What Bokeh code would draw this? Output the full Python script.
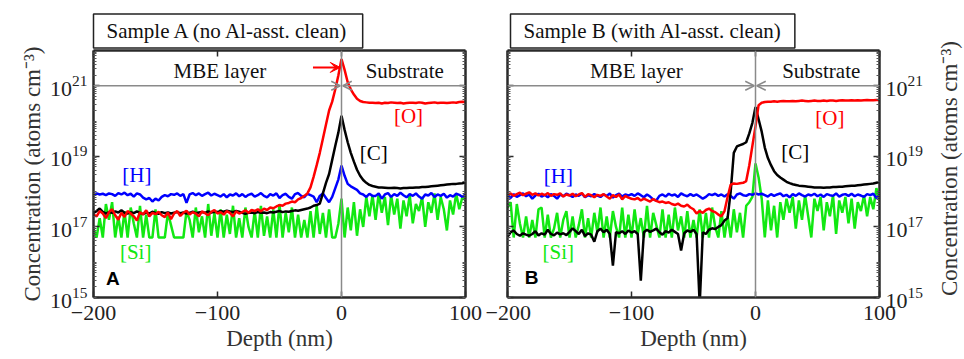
import math
import numpy as np
from bokeh.plotting import figure
from bokeh.layouts import row
from bokeh.models import (FixedTicker, LinearAxis, LogAxis, Span, Arrow, OpenHead,
                          VeeHead, Label, CustomJSTickFormatter, Range1d)
from bokeh.embed import file_html
from bokeh.resources import INLINE

# depth grid (nm), 2.5 nm sampling
depth = np.arange(-200, 100.1, 2.5)

# ---- Sample A (no Al-asst. clean), log10 concentrations ----
a_H = [17.93, 17.95, 17.92, 17.94, 17.90, 17.95, 17.93, 17.88, 17.96, 17.92, 17.97,
       17.90, 17.94, 17.86, 17.95, 17.92, 17.83, 17.78, 17.82, 17.72, 17.80,
       17.75, 17.85, 17.90, 17.87, 17.93, 17.91, 17.95, 17.88, 17.93, 17.68,
       17.92, 17.96, 17.90, 17.95, 17.88, 17.93, 17.97, 17.89, 17.94, 17.90,
       17.86, 17.93, 17.84, 17.92, 17.89, 17.95, 17.87, 17.93, 17.85, 17.91,
       17.94, 17.86, 17.90, 17.96, 17.88, 17.84, 17.93, 17.89, 17.95, 17.82,
       17.90, 17.94, 17.85, 17.80, 17.93, 17.96, 17.88, 17.84, 17.94, 17.90,
       17.86, 17.70, 17.88, 17.95, 17.82, 17.70, 17.85, 18.10, 18.35, 18.74,
       18.45, 18.22, 18.15, 18.10, 18.05, 17.95, 17.92, 17.85, 17.94, 17.88,
       17.88, 17.95, 17.80, 17.92, 17.96, 17.85, 17.93, 17.88, 17.97, 17.90,
       17.84, 17.93, 17.88, 17.95, 17.86, 17.80, 17.92, 17.89, 17.96, 17.85,
       17.92, 17.88, 17.94, 17.83, 17.90, 17.86, 17.94, 17.91, 17.85, 17.93]
a_C = [17.40, 17.45, 17.52, 17.43, 17.38, 17.42, 17.40, 17.44, 17.41, 17.47, 17.40,
       17.38, 17.42, 17.39, 17.44, 17.40, 17.36, 17.41, 17.38, 17.43, 17.40,
       17.37, 17.42, 17.39, 17.41, 17.38, 17.40, 17.42, 17.39, 17.41, 17.38,
       17.40, 17.43, 17.39, 17.41, 17.42, 17.40, 17.44, 17.41, 17.43, 17.42,
       17.45, 17.43, 17.46, 17.44, 17.42, 17.45, 17.43, 17.40, 17.37, 17.40,
       17.41, 17.39, 17.42, 17.40, 17.41, 17.39, 17.42, 17.41, 17.43, 17.45,
       17.42, 17.44, 17.43, 17.45, 17.47, 17.46, 17.48, 17.50, 17.52, 17.55,
       17.60, 17.62, 17.66, 17.95, 18.25, 18.50, 18.90, 19.30, 19.68, 20.15,
       19.75, 19.40, 19.10, 18.85, 18.62, 18.45, 18.33, 18.25, 18.19, 18.16,
       18.14, 18.12, 18.12, 18.11, 18.10, 18.10, 18.11, 18.10, 18.09, 18.10,
       18.10, 18.11, 18.11, 18.12, 18.12, 18.13, 18.13, 18.14, 18.15, 18.16,
       18.17, 18.18, 18.19, 18.20, 18.21, 18.22, 18.22, 18.23, 18.24, 18.26]
a_O = [17.35, 17.30, 17.45, 17.38, 17.25, 17.42, 17.50, 17.33, 17.20, 17.40, 17.28,
       17.45, 17.38, 17.30, 17.18, 17.42, 17.35, 17.47, 17.30, 17.40, 17.36,
       17.43, 17.33, 17.28, 17.41, 17.22, 17.38, 17.45, 17.31, 17.40, 17.46,
       17.35, 17.42, 17.38, 17.30, 17.44, 17.39, 17.33, 17.43, 17.48, 17.38,
       17.42, 17.35, 17.45, 17.40, 17.30, 17.44, 17.38, 17.42, 17.47, 17.40,
       17.48, 17.45, 17.50, 17.44, 17.52, 17.48, 17.55, 17.53, 17.58, 17.62,
       17.60, 17.66, 17.68, 17.72, 17.70, 17.78, 17.82, 17.88, 17.95, 18.12,
       18.42, 18.75, 19.10, 19.50, 19.90, 20.30, 20.55, 20.90, 21.30, 21.76,
       21.45, 21.10, 20.90, 20.75, 20.63, 20.57, 20.54, 20.53, 20.52, 20.52,
       20.51, 20.52, 20.50, 20.52, 20.51, 20.53, 20.52, 20.51, 20.52, 20.50,
       20.51, 20.52, 20.52, 20.51, 20.53, 20.52, 20.50, 20.51, 20.52, 20.53,
       20.51, 20.52, 20.52, 20.51, 20.52, 20.53, 20.52, 20.54, 20.55, 20.54]
a_Si = [16.95, 16.70, 17.25, 16.70, 17.65, 17.20, 17.70, 16.70, 17.30, 16.70, 17.45,
        16.70, 17.55, 17.10, 16.70, 17.60, 16.70, 17.35, 16.70, 16.70, 17.50,
        16.70, 16.70, 16.70, 17.40, 17.05, 16.70, 16.70, 16.70, 16.70, 17.45,
        17.20, 16.70, 17.55, 16.85, 17.30, 16.70, 17.65, 16.75, 17.40, 16.70,
        17.50, 16.70, 17.35, 16.80, 17.60, 16.70, 17.25, 16.70, 17.55, 17.00,
        16.70, 17.45, 16.70, 17.60, 16.75, 17.30, 16.70, 17.50, 16.70, 17.65,
        16.70, 17.40, 16.85, 17.55, 16.70, 17.35, 16.70, 17.20, 16.70, 17.45,
        16.70, 17.60, 16.80, 17.40, 16.70, 17.50, 16.70, 16.70, 17.10, 17.80,
        16.70, 17.55, 16.90, 17.70, 16.75, 17.50, 17.00, 17.85, 17.30, 17.90,
        17.20, 17.95, 17.40, 17.85, 17.05, 17.90, 17.35, 17.80, 16.95, 17.75,
        17.30, 17.90, 17.10, 17.65, 17.45, 17.85, 17.00, 17.70, 17.40, 17.95,
        17.20, 17.85, 17.50, 16.90, 17.75, 17.35, 17.95, 17.50, 17.85, 17.75]

# ---- Sample B (with Al-asst. clean), log10 concentrations ----
b_H = [17.88, 17.82, 17.93, 17.85, 17.90, 17.95, 17.87, 17.92, 17.80, 17.89, 17.94,
       17.86, 17.91, 17.84, 17.93, 17.88, 17.80, 17.92, 17.87, 17.94, 17.90,
       17.85, 17.92, 17.88, 17.95, 17.84, 17.90, 17.87, 17.93, 17.89, 17.85,
       17.92, 17.88, 17.95, 17.83, 17.90, 17.94, 17.86, 17.92, 17.89, 17.93,
       17.88, 17.95, 17.90, 17.84, 17.92, 17.86, 17.78, 17.75, 17.88, 17.92,
       17.86, 17.94, 17.89, 17.92, 17.85, 17.95, 17.90, 17.87, 17.93, 17.88,
       17.92, 17.86, 17.80, 17.85, 17.93, 17.90, 17.94, 17.88, 17.92, 17.86,
       17.93, 17.88, 17.80, 17.92, 17.95, 17.90, 17.88, 17.93, 17.91, 17.95,
       17.92, 17.94, 17.90, 17.86, 17.93, 17.88, 17.92, 17.95, 17.87, 17.91,
       17.84, 17.93, 17.88, 17.95, 17.90, 17.86, 17.92, 17.89, 17.94, 17.87,
       17.92, 17.85, 17.93, 17.90, 17.88, 17.95, 17.86, 17.91, 17.93, 17.88,
       17.94, 17.87, 17.92, 17.89, 17.85, 17.93, 17.90, 17.94, 17.82, 17.88]
b_C = [16.72, 16.85, 16.90, 16.80, 16.75, 16.82, 16.78, 16.75, 16.80, 16.88, 16.76,
       16.82, 16.78, 16.92, 16.80, 16.76, 16.84, 16.79, 16.82, 16.77, 16.86,
       16.96, 16.88, 16.80, 16.92, 16.74, 16.82, 16.78, 16.58, 16.88, 16.95,
       16.85, 16.92, 16.80, 15.90, 16.85, 16.82, 16.88, 16.80, 16.90, 16.84,
       16.88, 16.80, 15.48, 16.85, 16.92, 16.86, 16.90, 16.95, 16.85, 16.78,
       16.88, 16.84, 16.92, 16.86, 16.80, 16.33, 16.82, 16.90, 16.86, 16.92,
       16.80, 14.80, 16.85, 16.80, 16.92, 16.96, 16.94, 17.00, 17.05, 17.18,
       17.25, 18.00, 19.10, 19.28, 19.32, 19.35, 19.40, 19.65, 19.95, 20.40,
       20.05, 19.70, 19.25, 18.95, 18.75, 18.58, 18.47, 18.40, 18.34, 18.28,
       18.24, 18.21, 18.19, 18.17, 18.16, 18.15, 18.14, 18.13, 18.12, 18.12,
       18.12, 18.11, 18.12, 18.12, 18.13, 18.13, 18.14, 18.14, 18.15, 18.16,
       18.17, 18.17, 18.18, 18.19, 18.20, 18.21, 18.22, 18.23, 18.25, 18.27]
b_O = [17.92, 17.95, 17.88, 17.93, 17.97, 17.90, 17.94, 17.98, 17.91, 17.95, 17.89,
       17.94, 17.90, 17.96, 17.88, 17.93, 17.91, 17.95, 17.86, 17.92, 17.89,
       17.94, 17.87, 17.92, 17.96, 17.85, 17.93, 17.90, 17.84, 17.91, 17.88,
       17.93, 17.86, 17.80, 17.90, 17.85, 17.92, 17.78, 17.88, 17.83, 17.80,
       17.78, 17.82, 17.75, 17.80, 17.76, 17.72, 17.79, 17.74, 17.70, 17.72,
       17.68, 17.70, 17.65, 17.62, 17.66, 17.60, 17.58, 17.63, 17.55, 17.50,
       17.38, 17.45, 17.40, 17.48, 17.52, 17.45, 17.42, 17.35, 17.30, 17.45,
       17.85, 18.20, 18.23, 18.22, 18.24, 18.25, 18.30, 18.75, 19.30, 19.85,
       20.45, 20.52, 20.54, 20.55, 20.55, 20.56, 20.55, 20.56, 20.57, 20.56,
       20.56, 20.57, 20.56, 20.57, 20.58, 20.57, 20.56, 20.57, 20.58, 20.57,
       20.57, 20.58, 20.57, 20.58, 20.58, 20.57, 20.58, 20.59, 20.58, 20.58,
       20.59, 20.58, 20.59, 20.58, 20.59, 20.60, 20.59, 20.59, 20.60, 20.60]
b_Si = [17.55, 17.70, 16.70, 17.65, 17.10, 16.70, 17.30, 16.70, 17.20, 16.70, 17.50,
        17.55, 16.70, 17.35, 16.70, 16.95, 17.40, 16.70, 17.20, 17.45, 16.70,
        17.30, 16.70, 17.05, 17.50, 16.70, 17.25, 16.70, 17.40, 16.85, 17.55,
        16.70, 17.30, 16.70, 17.45, 17.00, 16.70, 17.55, 16.70, 17.35, 16.70,
        17.50, 16.80, 17.25, 16.70, 17.60, 16.70, 17.40, 17.05, 16.70, 17.50,
        16.70, 17.35, 16.70, 17.55, 16.90, 17.30, 16.70, 17.45, 16.70, 17.20,
        16.70, 17.50, 16.70, 17.40, 16.70, 17.55, 17.00, 16.70, 17.45, 16.70,
        17.30, 16.70, 17.50, 16.85, 17.40, 16.70, 17.60, 17.70, 17.85, 18.80,
        18.40, 17.80, 16.70, 17.75, 16.90, 17.60, 16.70, 17.70, 17.20, 17.80,
        17.40, 17.85, 16.95, 17.75, 17.20, 17.90, 17.30, 16.70, 17.80, 17.45,
        17.85, 16.90, 17.70, 17.30, 17.90, 16.80, 17.75, 17.40, 17.85, 17.10,
        17.80, 16.95, 17.70, 17.45, 17.90, 17.30, 17.85, 17.50, 18.10, 17.75]

x_ticks = [-200, -100, 0, 100]
x_tick_labels = {-200: "\u2212200", -100: "\u2212100", 0: "0", 100: "100"}
y_major = [1e15, 1e17, 1e19, 1e21]
y_minor = [k * 10.0 ** n for n in range(15, 22) for k in range(1, 10)]

SERIF = "Liberation Serif"
FW, FH = 372, 247
TOP = 50
H = 359
RED, BLUE, BLACK, GREEN, GRAY = "#ff0000", "#0000ff", "#000000", "#12e812", "#8a8a8a"
YLABEL = "Concentration (atoms cm\u207b\u00b3)"
LABEL_SIZE = "23px"


def style_axis(ax):
    ax.axis_line_width = 2.5
    ax.axis_line_color = "#2a2a2a"
    ax.major_tick_in = 6
    ax.major_tick_out = 0
    ax.minor_tick_in = 3
    ax.minor_tick_out = 0
    ax.major_tick_line_color = "#2a2a2a"
    ax.minor_tick_line_color = "#555555"
    ax.major_tick_line_width = 1.5
    ax.major_label_text_font = SERIF
    ax.major_label_text_font_size = "22px"
    ax.major_label_text_color = "#222222"
    ax.major_label_standoff = 6
    ax.axis_label_text_font = SERIF
    ax.axis_label_text_font_size = LABEL_SIZE
    ax.axis_label_text_font_style = "normal"
    ax.axis_label_text_color = "#333333"


def make_panel(H_, C_, O_, Si_, title, tag, lab, side, mb_left, mb_right):
    p = figure(width=mb_left + FW + mb_right, height=H,
               x_range=Range1d(-200, 100), y_range=Range1d(1e15, 1e22),
               y_axis_type="log", y_axis_location=side,
               output_backend="svg", toolbar_location=None,
               min_border_left=mb_left, min_border_right=mb_right,
               min_border_top=TOP, min_border_bottom=H - TOP - FH)
    p.grid.visible = False
    p.outline_line_color = None
    p.background_fill_color = "white"

    p.title.text = title
    p.title.text_font = SERIF
    p.title.text_font_size = "21px"
    p.title.text_font_style = "normal"
    p.title.text_color = "#111111"
    p.title.align = "left"
    p.title.offset = lab["box"]
    p.title.standoff = 5
    p.title.background_fill_color = "white"
    p.title.border_line_color = "#222222"
    p.title.border_line_width = 1.5
    p.title.padding = (13, 5)

    xa = p.xaxis[0]
    style_axis(xa)
    xa.ticker = FixedTicker(ticks=x_ticks)
    xa.major_label_overrides = x_tick_labels
    xa.minor_tick_line_color = None
    xa.major_label_standoff = 8
    xa.axis_label = "Depth (nm)"
    xa.axis_label_standoff = 3

    ya = p.yaxis[0]
    style_axis(ya)
    ya.ticker = FixedTicker(ticks=y_major, minor_ticks=y_minor)
    if side == "left":
        ya.axis_label = YLABEL
        ya.axis_label_standoff = 2

    blank = CustomJSTickFormatter(code="return ''")
    top = LinearAxis(ticker=FixedTicker(ticks=x_ticks), formatter=blank)
    style_axis(top)
    top.minor_tick_line_color = None
    top.major_label_standoff = 0
    p.add_layout(top, "above")
    other = LogAxis(ticker=FixedTicker(ticks=y_major, minor_ticks=y_minor), formatter=blank)
    style_axis(other)
    other.major_label_standoff = 0
    p.add_layout(other, "right" if side == "left" else "left")

    p.line(depth, 10 ** np.array(Si_), line_color=GREEN, line_width=2.5)
    p.line(depth, 10 ** np.array(H_), line_color=BLUE, line_width=2.5)
    p.line(depth, 10 ** np.array(C_), line_color=BLACK, line_width=2.5)
    p.line(depth, 10 ** np.array(O_), line_color=RED, line_width=2.5)

    p.add_layout(Span(location=0, dimension="height", line_color=GRAY, line_width=1.5))
    p.add_layout(Arrow(x_start=-200, y_start=1e21, x_end=-1, y_end=1e21,
                       line_color=GRAY, line_width=1.5,
                       end=OpenHead(size=9, line_color=GRAY, line_width=1.5)))
    p.add_layout(Arrow(x_start=100, y_start=1e21, x_end=1, y_end=1e21,
                       line_color=GRAY, line_width=1.5,
                       end=OpenHead(size=9, line_color=GRAY, line_width=1.5)))

    def txt(x, y, s, color="black", size="21px", font=SERIF, style="normal", align="center"):
        p.add_layout(Label(x=x, y=y, text=s, text_color=color, text_font=font,
                           text_font_size=size, text_font_style=style,
                           text_align=align, text_baseline="middle"))

    txt(lab["mbe"], 10 ** 21.43, "MBE layer", "#111111")
    txt(lab["sub"], 10 ** 21.43, "Substrate", "#111111")
    txt(lab["O"][0], 10 ** lab["O"][1], "[O]", RED)
    txt(lab["C"][0], 10 ** lab["C"][1], "[C]", BLACK)
    txt(lab["H"][0], 10 ** lab["H"][1], "[H]", BLUE)
    txt(lab["Si"][0], 10 ** lab["Si"][1], "[Si]", GREEN)
    txt(lab["tag"][0], 10 ** lab["tag"][1], tag, "black", "19px",
        "Liberation Sans", "bold", "left")
    return p


pA = make_panel(a_H, a_C, a_O, a_Si, "Sample A (no Al-asst. clean)", "A",
                dict(mbe=-98, sub=51, O=(54, 20.15), C=(26, 19.1), H=(-165, 18.48),
                     Si=(-166, 16.28), tag=(-190, 15.54), box=0),
                "left", 93, 20)
pA.add_layout(Arrow(x_start=-23, y_start=10 ** 21.52, x_end=-1, y_end=10 ** 21.52,
                    line_color=RED, line_width=2,
                    end=VeeHead(size=10, fill_color=RED, line_color=RED)))

pB = make_panel(b_H, b_C, b_O, b_Si, "Sample B (with Al-asst. clean)", "B",
                dict(mbe=-96, sub=53, O=(60, 20.10), C=(32, 19.11), H=(-159, 18.45),
                     Si=(-159, 16.28), tag=(-186, 15.57), box=3),
                "right", 22, 48)

# narrow strip carrying the right-hand y-axis title (reads bottom to top)
RW = 37
pL = figure(width=RW, height=H, x_range=Range1d(0, 1), y_range=Range1d(0, 1),
            x_axis_location=None, y_axis_location=None,
            output_backend="svg", toolbar_location=None, min_border=0)
pL.grid.visible = False
pL.outline_line_color = None
try:
    pL.frame_align = False
    label_y = H - 168
except Exception:
    label_y = FH / 2 + 8
pL.add_layout(Label(x=22, y=label_y, x_units="screen", y_units="screen",
                    text=YLABEL, angle=math.pi / 2,
                    text_font=SERIF, text_font_size=LABEL_SIZE, text_color="#333333",
                    text_align="center", text_baseline="middle"))

layout = row(pA, pB, pL, spacing=0)
open("out.html", "w").write(file_html(layout, INLINE))
